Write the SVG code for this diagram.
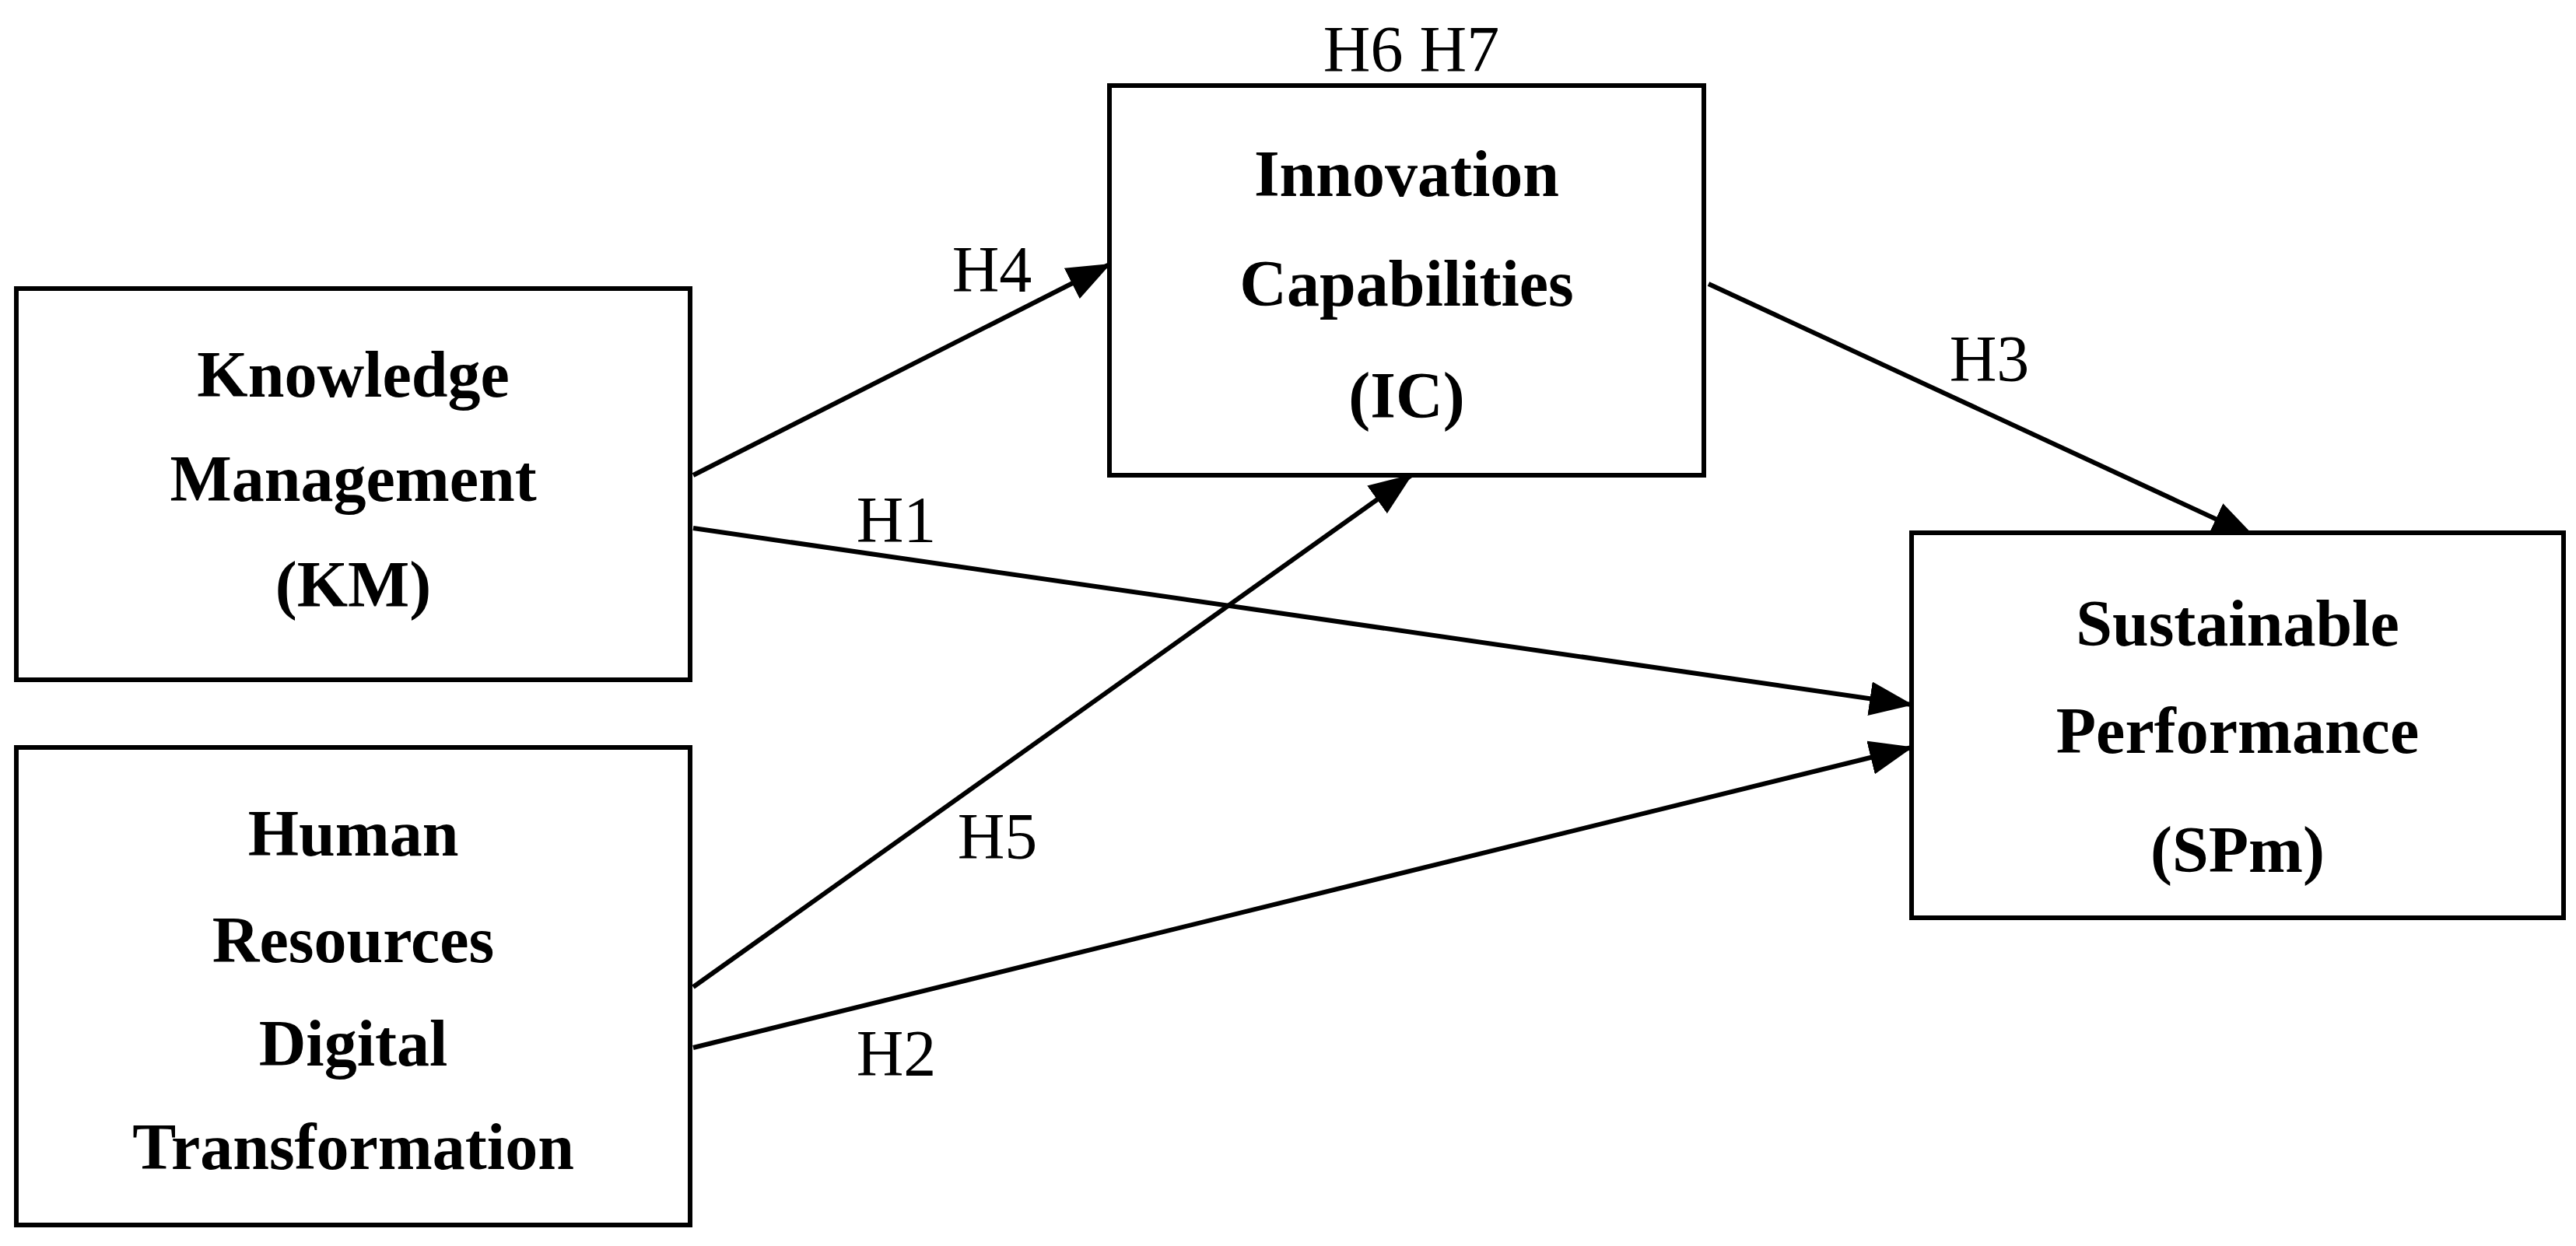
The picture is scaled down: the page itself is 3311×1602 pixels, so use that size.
<svg xmlns="http://www.w3.org/2000/svg" width="3311" height="1602" viewBox="0 0 3311 1602">
<style>
.box{fill:#fff;stroke:#000;stroke-width:6}
.t{font-family:"Liberation Serif",serif;font-weight:bold;font-size:84px;text-anchor:middle}
.l{font-family:"Liberation Serif",serif;font-size:84px;text-anchor:middle}
.c{stroke:#000;stroke-width:6;fill:none;marker-end:url(#ah)}
</style>
<defs><marker id="ah" markerUnits="userSpaceOnUse" markerWidth="60" markerHeight="44" refX="54" refY="22" orient="auto"><path d="M0,0 L56,22 L0,44 Z" fill="#000"/></marker></defs>
<rect width="3311" height="1602" fill="#fff"/>
<g id="connectors">
<line class="c" x1="891" y1="611" x2="1426" y2="340"/>
<line class="c" x1="2196" y1="365" x2="2897" y2="690"/>
<line class="c" x1="891" y1="679" x2="2457" y2="906"/>
<line class="c" x1="891" y1="1269" x2="1814" y2="611"/>
<line class="c" x1="891" y1="1347" x2="2457" y2="961"/>
</g>
<g id="labels">
<text class="l" x="1814" y="92">H6  H7</text>
<text class="l" x="1275" y="375">H4</text>
<text class="l" x="2557" y="490">H3</text>
<text class="l" x="1152" y="697">H1</text>
<text class="l" x="1282" y="1104">H5</text>
<text class="l" x="1152" y="1383">H2</text>
</g>
<g id="km"><rect class="box" x="21" y="371" width="866" height="503"/>
<text class="t" x="454" y="510">Knowledge</text><text class="t" x="454" y="644">Management</text><text class="t" x="454" y="780">(KM)</text></g>
<g id="hr"><rect class="box" x="21" y="961" width="866" height="614"/>
<text class="t" x="454" y="1100">Human</text><text class="t" x="454" y="1237">Resources</text><text class="t" x="454" y="1370">Digital</text><text class="t" x="454" y="1503">Transformation</text></g>
<g id="ic"><rect class="box" x="1426" y="110" width="764" height="501"/>
<text class="t" x="1808" y="252">Innovation</text><text class="t" x="1808" y="393">Capabilities</text><text class="t" x="1808" y="537">(IC)</text></g>
<g id="sp"><rect class="box" x="2457" y="685" width="838" height="495"/>
<text class="t" x="2876" y="830">Sustainable</text><text class="t" x="2876" y="968">Performance</text><text class="t" x="2876" y="1121">(SPm)</text></g>
</svg>
